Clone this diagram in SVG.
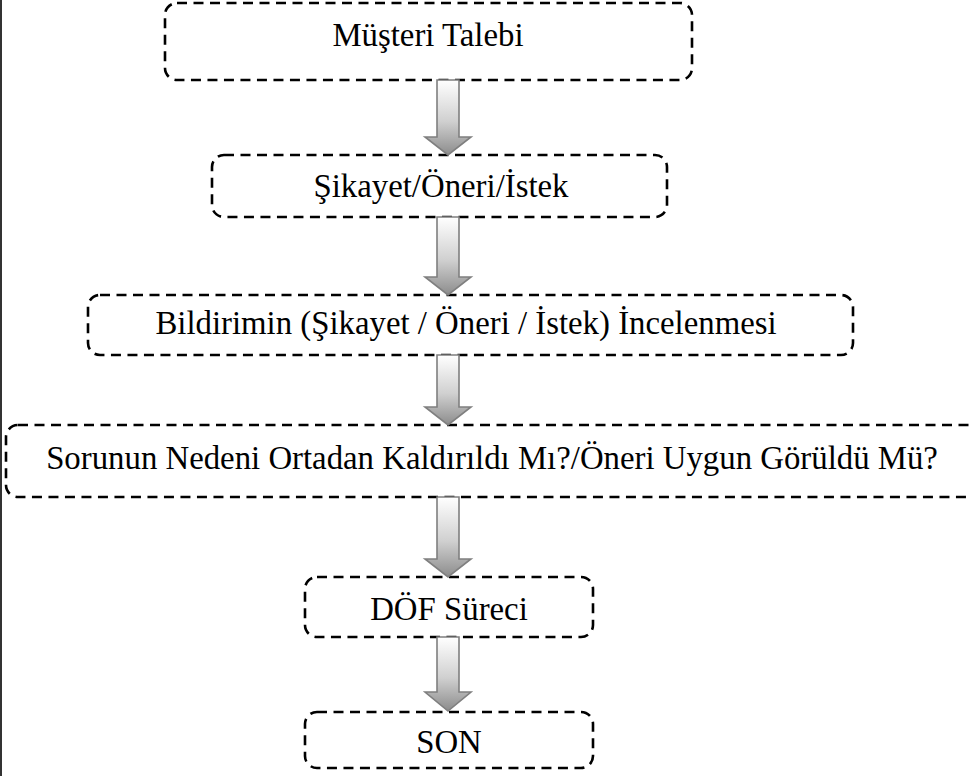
<svg xmlns="http://www.w3.org/2000/svg" width="971" height="776" viewBox="0 0 971 776">
<defs>
<style>
.box{fill:#ffffff;stroke:#000000;stroke-width:2.6;stroke-dasharray:10 6.5}
.lbl{font-family:'Liberation Serif','Times New Roman','DejaVu Serif',serif;font-size:32.8px;fill:#000000;text-anchor:middle}
.arr{fill:url(#ag);stroke:#7f7f7f;stroke-width:1.6;stroke-linejoin:miter}
</style>
<linearGradient id="ag" x1="0" y1="0" x2="0" y2="1">
<stop offset="0" stop-color="#ffffff"/>
<stop offset="0.55" stop-color="#d0d0d0"/>
<stop offset="1" stop-color="#8c8c8c"/>
</linearGradient>
</defs>
<rect x="0" y="0" width="971" height="776" fill="#ffffff"/>
<line x1="1" y1="0" x2="1" y2="776" stroke="#333333" stroke-width="2"/>
<g id="n1"><rect class="box" x="165" y="3" width="527" height="77" rx="12"/><text class="lbl" font-family="Liberation Serif, serif" x="428" y="46">Müşteri Talebi</text></g>
<g id="n2"><rect class="box" x="212" y="155" width="455" height="62" rx="12"/><text class="lbl" font-family="Liberation Serif, serif" x="441" y="197">Şikayet/Öneri/İstek</text></g>
<g id="n3"><rect class="box" x="88" y="295" width="765" height="60" rx="12"/><text class="lbl" font-family="Liberation Serif, serif" x="466" y="334">Bildirimin (Şikayet / Öneri / İstek) İncelenmesi</text></g>
<g id="n4"><rect class="box" x="6" y="425" width="975" height="72" rx="12"/><text class="lbl" font-family="Liberation Serif, serif" x="492" y="469">Sorunun Nedeni Ortadan Kaldırıldı Mı?/Öneri Uygun Görüldü Mü?</text></g>
<g id="n5"><rect class="box" x="305" y="577" width="288" height="60" rx="12"/><text class="lbl" font-family="Liberation Serif, serif" x="449" y="620">DÖF Süreci</text></g>
<g id="n6"><rect class="box" x="305" y="712" width="288" height="56" rx="12"/><text class="lbl" font-family="Liberation Serif, serif" x="449" y="753">SON</text></g>
<g id="connectors">
<path class="arr" d="M437,80 H459 V137 H471 L448,155 L425,137 H437 Z"/>
<path class="arr" d="M437,217 H459 V277 H471 L448,295 L425,277 H437 Z"/>
<path class="arr" d="M437,355 H459 V407 H471 L448,425 L425,407 H437 Z"/>
<path class="arr" d="M437,497 H459 V559 H471 L448,577 L425,559 H437 Z"/>
<path class="arr" d="M437,637 H459 V692 H471 L448,711 L425,692 H437 Z"/>
</g>
</svg>
